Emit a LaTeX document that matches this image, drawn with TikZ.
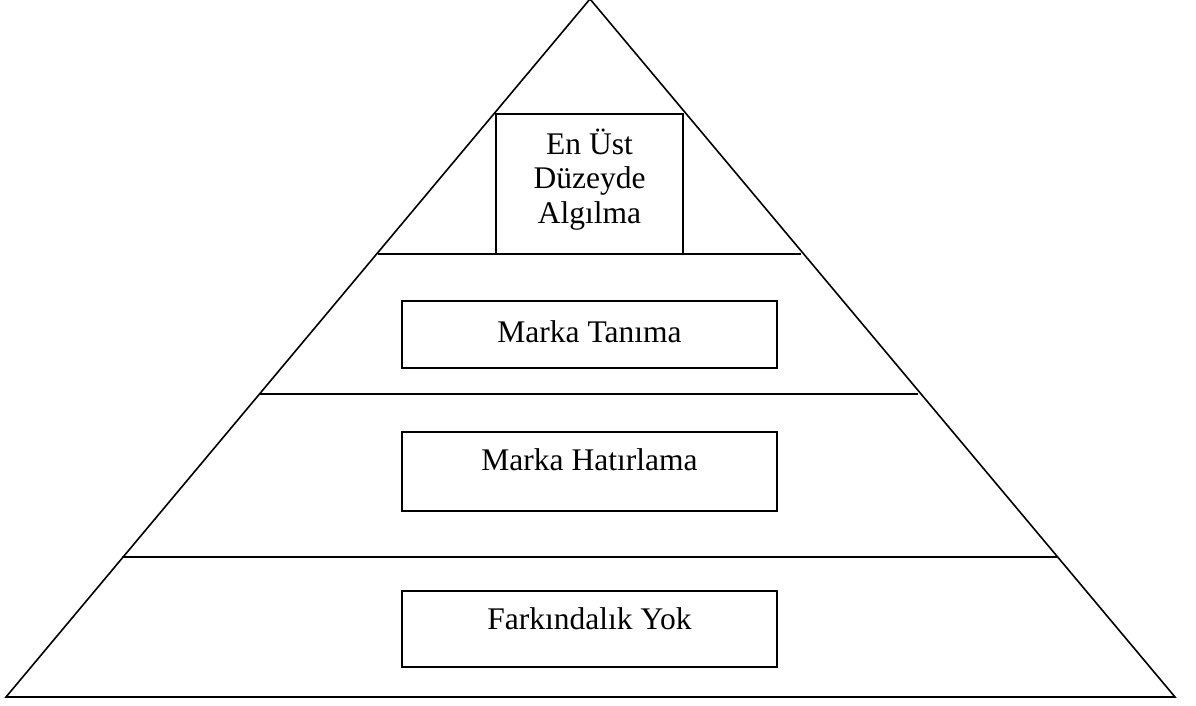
\documentclass[tikz,border=0pt]{standalone}
\usepackage{fontspec}
\setmainfont{Liberation Serif}
\begin{document}
\begin{tikzpicture}[x=1pt,y=-1pt,
  edge/.style={draw=black,line width=1.6pt},
  divider/.style={draw=black,line width=2pt},
  levelbox/.style={draw=black,line width=2pt,rectangle,inner sep=0pt},
  label/.style={font=\fontsize{31.5}{34.5}\selectfont,inner sep=0pt,anchor=base,align=center}]
  \useasboundingbox (0,0) rectangle (1196,706);
  % pyramid outline
  \coordinate (apex) at (590,-1);
  \coordinate (bl) at (6,697);
  \coordinate (br) at (1175,697);
  \draw[edge,line join=miter] (bl) -- (apex) -- (br) -- cycle;
  % level dividers
  \coordinate (d1l) at (378,254); \coordinate (d1r) at (801,254);
  \coordinate (d2l) at (260,394); \coordinate (d2r) at (918,394);
  \coordinate (d3l) at (122,557); \coordinate (d3r) at (1057,557);
  \draw[divider] (d1l) -- (d1r);
  \draw[divider] (d2l) -- (d2r);
  \draw[divider] (d3l) -- (d3r);
  % boxes
  \node[levelbox,minimum width=187pt,minimum height=140pt] (b1) at (589.5,184) {};
  \node[levelbox,minimum width=375pt,minimum height=67pt] (b2) at (589.5,334.5) {};
  \node[levelbox,minimum width=375pt,minimum height=79pt] (b3) at (589.5,471.5) {};
  \node[levelbox,minimum width=375pt,minimum height=76pt] (b4) at (589.5,629) {};
  % texts (base = baseline of the last line)
  \node[label] (t1) at (589.5,223) {En Üst\\Düzeyde\\Algılma};
  \node[label] (t2) at (589.5,342) {Marka Tanıma};
  \node[label] (t3) at (589.5,470) {Marka Hatırlama};
  \node[label] (t4) at (589.5,629) {Farkındalık Yok};
\end{tikzpicture}
\end{document}
